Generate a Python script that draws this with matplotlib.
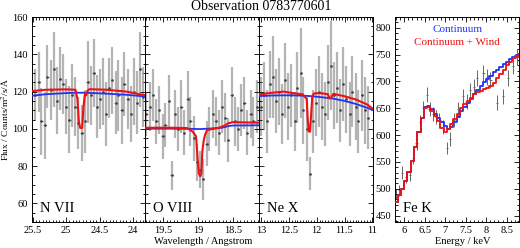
import numpy as np
import matplotlib
matplotlib.use("Agg")
import matplotlib.pyplot as plt
from matplotlib.ticker import MultipleLocator, FormatStrFormatter

plt.rcParams['font.family'] = ['Liberation Serif', 'DejaVu Serif']
plt.rcParams['mathtext.fontset'] = 'stix'

title = "Observation 0783770601"

# N VII panel
nvii_wl = [25.46, 25.41, 25.37, 25.32, 25.28, 25.23, 25.18, 25.14, 25.09, 25.05,
           25.00, 24.95, 24.91, 24.86, 24.82, 24.77, 24.72, 24.68, 24.63, 24.59,
           24.54, 24.49, 24.45, 24.40, 24.36, 24.31, 24.26, 24.22, 24.17, 24.13,
           24.08, 24.03, 23.99, 23.94, 23.90, 23.85]
nvii_flux = [118, 125, 104, 102, 128, 121, 132, 115, 127, 124,
             112, 105, 118, 112, 103, 98, 104, 125, 118, 130,
             112, 116, 120, 108, 122, 126, 114, 118, 110, 124,
             116, 108, 120, 114, 132, 117]
nvii_err = [14, 16, 18, 18, 17, 16, 20, 18, 17, 16,
            15, 18, 17, 16, 14, 15, 17, 22, 16, 18,
            17, 16, 18, 17, 16, 18, 17, 19, 18, 17,
            16, 15, 18, 17, 20, 16]
nvii_mod_wl = [25.50, 25.30, 25.00, 24.86, 24.83, 24.81, 24.79, 24.76, 24.74,
               24.72, 24.70, 24.68, 24.65, 24.40, 24.10, 23.82]
nvii_cont = [117.8, 118.6, 119.2, 119.4, 119.4, 119.4, 119.4, 119.4, 119.4,
             119.4, 119.4, 119.4, 119.3, 118.9, 118.3, 117.4]
nvii_wind = [120.3, 121.0, 121.2, 121.0, 116.0, 104.0, 100.5, 100.5, 112.0,
             118.5, 118.0, 120.5, 121.3, 121.0, 120.0, 118.0]

# O VIII panel
oviii_wl = [19.74, 19.69, 19.65, 19.60, 19.56, 19.51, 19.47, 19.42, 19.38, 19.33,
            19.29, 19.24, 19.20, 19.15, 19.11, 19.06, 19.02, 18.97, 18.93, 18.88,
            18.84, 18.79, 18.75, 18.70, 18.66, 18.61, 18.57, 18.52, 18.48, 18.43,
            18.39, 18.34, 18.30, 18.25, 18.21, 18.16]
oviii_flux = [108, 112, 118, 104, 110, 96, 102, 115, 75, 108,
              100, 112, 98, 116, 104, 95, 82, 78, 73, 92,
              100, 108, 104, 98, 112, 106, 94, 118, 104, 100,
              110, 114, 98, 108, 104, 112]
oviii_err = [12, 13, 14, 12, 13, 12, 12, 14, 8, 13,
             12, 14, 12, 15, 13, 12, 10, 10, 11, 12,
             12, 13, 13, 12, 14, 13, 12, 15, 13, 12,
             14, 14, 12, 13, 13, 14]
oviii_mod_wl = [19.76, 19.40, 19.15, 19.08, 19.03, 19.01, 18.99, 18.97, 18.955,
                18.94, 18.92, 18.90, 18.87, 18.70, 18.62, 18.57, 18.50, 18.13]
oviii_cont = [100.1, 100.1, 100.0, 100.0, 99.9, 99.9, 99.9, 99.9, 99.9,
              99.9, 100.0, 100.0, 100.1, 100.4, 100.9, 101.5, 101.8, 101.9]
oviii_wind = [100.6, 100.6, 100.4, 98.5, 96.0, 85.0, 76.0, 74.5, 76.0,
              88.0, 94.0, 97.0, 99.5, 100.6, 101.8, 103.0, 103.6, 103.3]

# Ne X panel
nex_wl = [13.01, 12.95, 12.90, 12.84, 12.79, 12.73, 12.68, 12.62, 12.57, 12.51,
          12.46, 12.40, 12.35, 12.29, 12.24, 12.18, 12.13, 12.07, 12.02, 11.96,
          11.91, 11.85, 11.80, 11.74, 11.69, 11.63, 11.58, 11.52, 11.47, 11.41,
          11.36, 11.30, 11.25, 11.19, 11.14, 11.08]
nex_flux = [112, 118, 104, 124, 128, 115, 120, 108, 126, 112,
            118, 104, 122, 130, 110, 100, 76, 104, 114, 120,
            112, 108, 125, 134, 118, 122, 110, 124, 116, 108,
            120, 112, 104, 118, 110, 106]
nex_err = [16, 18, 17, 18, 22, 17, 18, 16, 20, 18,
           17, 16, 19, 24, 18, 17, 9, 17, 18, 19,
           18, 17, 20, 24, 18, 19, 17, 20, 18, 17,
           19, 18, 17, 19, 18, 17]
nex_mod_wl = [13.04, 12.80, 12.60, 12.45, 12.25, 12.18, 12.16, 12.14, 12.12, 12.10,
              12.08, 12.05, 11.95, 11.80, 11.77, 11.74, 11.70, 11.50, 11.30, 11.10, 11.00]
nex_cont = [117.6, 117.9, 118.0, 118.0, 117.8, 117.7, 117.7, 117.6, 117.6, 117.5,
            117.5, 117.4, 117.1, 116.6, 116.5, 116.4, 116.2, 115.0, 113.4, 111.4, 110.2]
nex_wind = [118.5, 119.4, 120.0, 119.3, 118.5, 116.0, 104.0, 98.5, 98.5, 108.0,
            117.5, 119.0, 119.2, 118.6, 116.3, 116.8, 118.8, 117.5, 115.8, 113.2, 111.0]

# Fe K panel
fe_mod_e = [5.80, 5.88, 5.96, 6.04, 6.12, 6.20, 6.28, 6.36, 6.44, 6.52,
            6.60, 6.68, 6.76, 6.84, 6.92, 7.00, 7.08, 7.16, 7.24, 7.32,
            7.40, 7.48, 7.56, 7.64, 7.72, 7.80, 7.88, 7.96, 8.04, 8.12,
            8.20, 8.28, 8.36, 8.44, 8.52, 8.60, 8.68, 8.76, 8.84]
fe_cont = [476, 488, 500, 515, 532, 552, 578, 605, 632, 652,
           655, 648, 640, 632, 624, 617, 612, 616, 624, 634,
           644, 652, 660, 668, 676, 684, 692, 699, 705, 711,
           717, 722, 727, 732, 737, 741, 745, 749, 752]
fe_wind = [476, 488, 500, 515, 532, 552, 578, 605, 632, 650,
           652, 645, 636, 626, 614, 606, 612, 620, 630, 640,
           650, 658, 664, 670, 676, 680, 683, 686, 688, 692,
           698, 706, 714, 722, 730, 737, 743, 748, 751]
fe_e = [5.80, 5.87, 5.95, 6.05, 6.14, 6.22, 6.30, 6.38, 6.46, 6.55,
        6.62, 6.70, 6.78, 6.86, 6.94, 7.05, 7.12, 7.22, 7.32, 7.44,
        7.52, 7.61, 7.70, 7.78, 7.93, 8.02, 8.10, 8.27, 8.41, 8.53,
        8.66, 8.76]
fe_flux = [490, 497, 530, 521, 526, 558, 585, 625, 650, 675,
           648, 640, 634, 628, 615, 576, 592, 628, 648, 672,
           662, 684, 690, 706, 716, 708, 702, 660, 672, 706,
           728, 745]
fe_err = [10, 10, 12, 11, 12, 12, 12, 13, 13, 14,
          13, 13, 13, 13, 13, 12, 13, 13, 14, 14,
          14, 14, 14, 15, 15, 15, 15, 14, 14, 15,
          15, 15]

BLUE = '#2233ee'
RED = '#ee1111'

fig = plt.figure(figsize=(5.2, 2.48), dpi=100)
bottom, height = 0.105, 0.826


def style(ax, xmaj, xmin, ymaj, ymin):
    ax.xaxis.set_major_locator(MultipleLocator(xmaj))
    ax.xaxis.set_minor_locator(MultipleLocator(xmin))
    ax.yaxis.set_major_locator(MultipleLocator(ymaj))
    ax.yaxis.set_minor_locator(MultipleLocator(ymin))
    ax.xaxis.set_major_formatter(FormatStrFormatter('%g'))
    ax.tick_params(which='both', direction='in', top=True, right=True,
                   labelsize=7.5, width=0.6, pad=3)
    ax.tick_params(which='major', length=3.5)
    ax.tick_params(which='minor', length=1.8)
    for s in ax.spines.values():
        s.set_linewidth(0.7)


line_panels = [
    (0.0615, 0.2175, (25.51, 23.82), nvii_wl, nvii_flux, nvii_err,
     nvii_mod_wl, nvii_cont, nvii_wind, "N VII"),
    (0.279, 0.219, (19.76, 18.13), oviii_wl, oviii_flux, oviii_err,
     oviii_mod_wl, oviii_cont, oviii_wind, "O VIII"),
    (0.498, 0.219, (13.04, 10.99), nex_wl, nex_flux, nex_err,
     nex_mod_wl, nex_cont, nex_wind, "Ne X"),
]

for i, (left, width, xlim, wl, fl, er, mwl, cont, wind, lab) in enumerate(line_panels):
    ax = fig.add_axes([left, bottom, width, height])
    ax.errorbar(wl, fl, yerr=er, fmt='none', ecolor='#b4b4b4', elinewidth=1.6, zorder=1)
    ax.errorbar(wl, fl, xerr=0.018, fmt='none', ecolor='#333333', elinewidth=0.5, zorder=2)
    ax.plot(wl, fl, 's', ms=0.8, color='#444444', zorder=2)
    ax.plot(mwl, cont, color=BLUE, lw=1.3, zorder=3)
    ax.plot(mwl, wind, color=RED, lw=1.5, zorder=4)
    ax.set_xlim(*xlim)
    ax.set_ylim(50, 160)
    style(ax, 0.5, 0.05, 20, 5)
    if i > 0:
        ax.tick_params(labelleft=False)
    ax.text(0.07, 0.05, lab, transform=ax.transAxes, fontsize=10.5)

ax4 = fig.add_axes([0.760, bottom, 0.238, height])
ax4.errorbar(fe_e, fe_flux, yerr=fe_err, xerr=0.03, fmt='none', ecolor='#666666',
             elinewidth=0.7, zorder=1)
ax4.plot(fe_mod_e, fe_cont, color=BLUE, lw=1.3, drawstyle='steps-mid', zorder=3)
ax4.plot(fe_mod_e, fe_wind, color=RED, lw=1.3, drawstyle='steps-mid', zorder=4)
ax4.set_xlim(5.78, 8.8)
ax4.set_ylim(438, 820)
style(ax4, 0.5, 0.1, 50, 10)
ax4.text(0.065, 0.05, "Fe K", transform=ax4.transAxes, fontsize=10.5)
ax4.text(0.5, 0.94, "Continuum", color=BLUE, transform=ax4.transAxes,
         fontsize=8, ha='center', va='center')
ax4.text(0.5, 0.875, "Continuum + Wind", color=RED, transform=ax4.transAxes,
         fontsize=8, ha='center', va='center')

fig.text(0.502, 0.972, title, ha='center', va='center', fontsize=10)
fig.text(0.011, 0.52, "Flux / Counts/m$^2$/s/Å", rotation=90, ha='center',
         va='center', fontsize=6.8)
fig.text(0.39, 0.028, "Wavelength / Angstrom", ha='center', va='center', fontsize=7.5)
fig.text(0.89, 0.028, "Energy / keV", ha='center', va='center', fontsize=7.5)

fig.savefig("out.png", dpi=100)
